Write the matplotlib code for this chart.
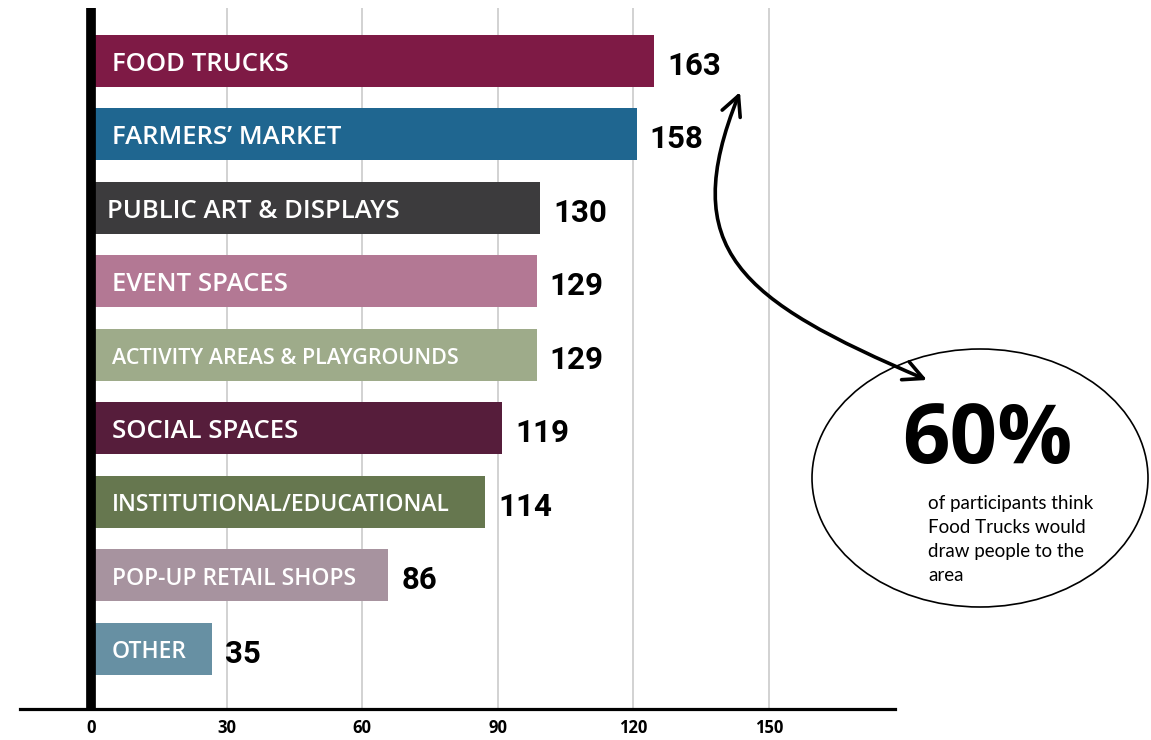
import matplotlib.pyplot as plt
import numpy as np
from matplotlib.patches import Ellipse, FancyArrowPatch
from matplotlib.path import Path

# Data
categories = ['FOOD TRUCKS', 'FARMERS\u2019 MARKET', 'PUBLIC ART & DISPLAYS', 'EVENT SPACES',
              'ACTIVITY AREAS & PLAYGROUNDS', 'SOCIAL SPACES', 'INSTITUTIONAL/EDUCATIONAL',
              'POP-UP RETAIL SHOPS', 'OTHER']
counts = [163, 158, 130, 129, 129, 119, 114, 86, 35]
tick_labels = [0, 30, 60, 90, 120, 150]
callout_pct = '60%'
callout_text = 'of participants think\nFood Trucks would\ndraw people to the\narea'

# Styling
colors = ['#7e1a45', '#1f6690', '#3c3b3d', '#b37894', '#9eab8a',
          '#561d3b', '#66774f', '#a7939f', '#6790a3']
label_sizes = [18.5, 18.5, 18.5, 18.5, 15.5, 18.5, 16.5, 16.5, 16.5]
label_dx = [15, 15, 11.5, 15, 15, 15, 15, 15, 15]
tick_scale = 1.3087  # the printed axis runs on a different scale than the bars

W, H = 1151, 740
fig = plt.figure(figsize=(W / 100, H / 100), dpi=100)
ax = fig.add_axes([20 / W, 1 - 709 / H, 875 / W, 701 / H])

y = np.arange(len(categories))
ax.barh(y, counts, height=0.71, color=colors, zorder=2)
ax.axvline(0, color='black', lw=7, zorder=3)

ax.set_xlim(-20.56, 232.8)
ax.set_ylim(8.82, -0.72)
ax.set_xticks(np.array(tick_labels) * tick_scale)
ax.set_xticklabels([str(t) for t in tick_labels], fontsize=12, fontweight='bold',
                   family=['Open Sans', 'DejaVu Sans'])
ax.set_yticks([])
ax.tick_params(axis='x', length=0, pad=7)
ax.grid(axis='x', color='#cfcfcf', lw=1.3, zorder=0)
ax.set_axisbelow(True)
for s in ['top', 'right', 'left']:
    ax.spines[s].set_visible(False)
ax.spines['bottom'].set_linewidth(2.3)
ax.spines['bottom'].set_zorder(4)

for i, (name, v) in enumerate(zip(categories, counts)):
    ax.annotate(name, xy=(0, i), xytext=(label_dx[i], -2.5), textcoords='offset points',
                ha='left', va='center', color='white', fontsize=label_sizes[i],
                fontweight='semibold', family=['Open Sans', 'DejaVu Sans'], zorder=5)
    ax.annotate(str(v), xy=(v, i), xytext=(9.5, -3.5), textcoords='offset points',
                ha='left', va='center', color='black', fontsize=22.5,
                fontweight='bold', family=['Roboto', 'DejaVu Sans'])

# Callout overlay in pixel coordinates
ov = fig.add_axes([0, 0, 1, 1], zorder=10)
ov.set_xlim(0, W)
ov.set_ylim(H, 0)
ov.axis('off')

ov.add_patch(Ellipse((980, 478), 336, 258, fill=False, ec='black', lw=1.2))
ov.text(987, 442, callout_pct, ha='center', va='center', fontsize=60,
        fontweight='bold', family=['Open Sans', 'DejaVu Sans'])
ov.text(928, 495, callout_text, ha='left', va='top', fontsize=13.5,
        linespacing=1.5, family=['Lato', 'DejaVu Sans'])

arrow_path = Path([(740, 92), (676, 250), (740, 300), (927, 380)],
                  [Path.MOVETO, Path.CURVE4, Path.CURVE4, Path.CURVE4])
ov.add_patch(FancyArrowPatch(path=arrow_path, arrowstyle='<->,head_length=0.7,head_width=0.35',
                             mutation_scale=20, color='black', lw=2.6))

fig.savefig('out.png', dpi=100)
